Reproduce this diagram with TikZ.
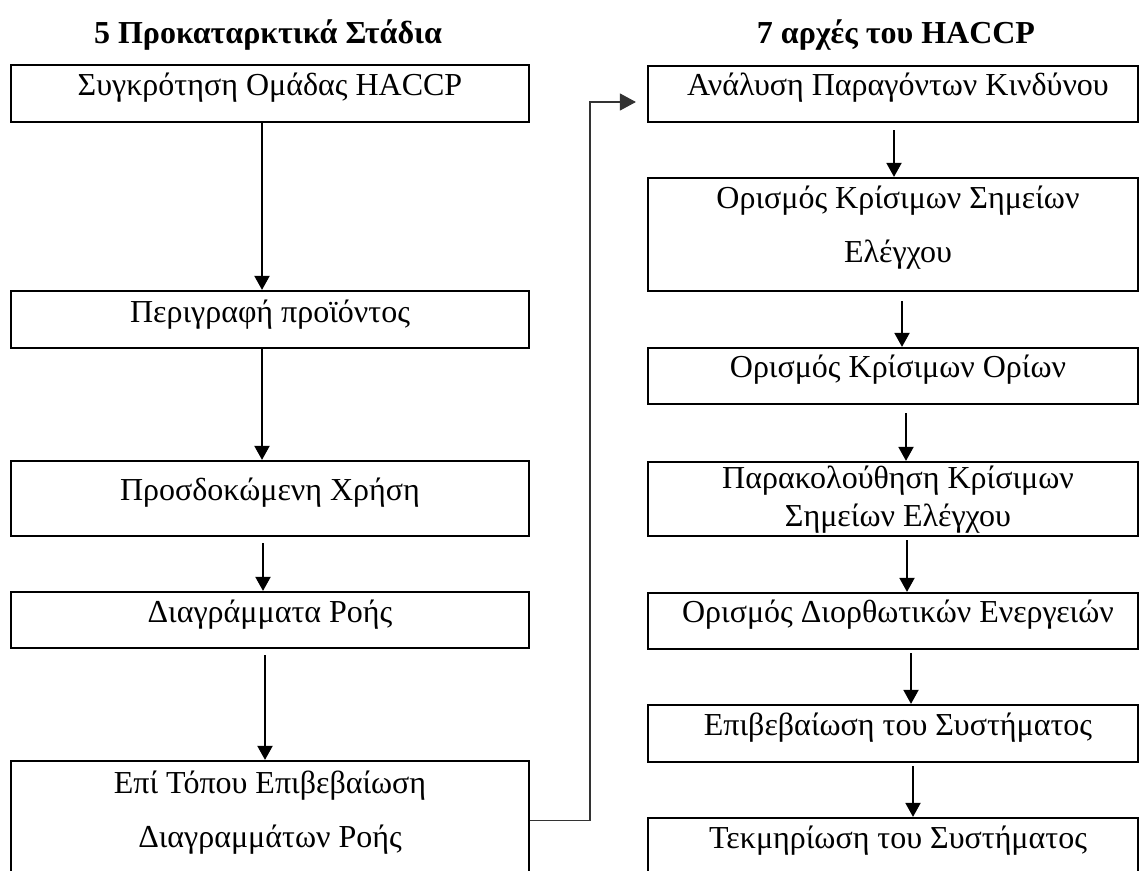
\documentclass[tikz,border=0pt]{standalone}
\usepackage{fontspec}
\setmainfont{Liberation Serif}
\usetikzlibrary{arrows.meta}
\begin{document}
\begin{tikzpicture}[x=1pt,y=-1pt,
  lbox/.style={draw=black, line width=2.2pt, inner sep=0pt, minimum width=518pt},
  rbox/.style={draw=black, line width=2.2pt, inner sep=0pt, minimum width=490pt},
  txt/.style={anchor=base, inner sep=0pt, font=\fontsize{32}{38}\selectfont},
  ttl/.style={anchor=base, inner sep=0pt, font=\fontsize{32}{38}\selectfont\bfseries},
  arr/.style={line width=1.9pt, -{Triangle[length=14pt,width=15pt]}},
  conn/.style={line width=1.1pt, draw=black!80, -{Triangle[length=16pt,width=17pt]}}]
\useasboundingbox (0,0) rectangle (1140,870);
% titles
\node[ttl] (t1) at (268,43) {5 Προκαταρκτικά Στάδια};
\node[ttl] (t2) at (896,43) {7 αρχές του HACCP};
% left column
\node[lbox, minimum height=57pt] (b1) at (270,93.5) {};
\node[txt] (b1t) at (270,95) {Συγκρότηση Ομάδας HACCP};
\node[lbox, minimum height=57pt] (b2) at (270,319.5) {};
\node[txt] (b2t) at (270,322) {Περιγραφή προϊόντος};
\node[lbox, minimum height=75pt] (b3) at (270,498.5) {};
\node[txt] (b3t) at (270,500) {Προσδοκώμενη Χρήση};
\node[lbox, minimum height=56pt] (b4) at (270,620) {};
\node[txt] (b4t) at (270,622) {Διαγράμματα Ροής};
\node[lbox, minimum height=119pt] (b5) at (270,820.5) {};
\node[txt] (b5t) at (270,793) {Επί Τόπου Επιβεβαίωση};
\node[txt] (b5u) at (270,847) {Διαγραμμάτων Ροής};
% right column
\node[rbox, minimum height=56pt] (r1) at (893,94) {};
\node[txt] (r1t) at (898,95) {Ανάλυση Παραγόντων Κινδύνου};
\node[rbox, minimum height=113pt] (r2) at (893,234.5) {};
\node[txt] (r2t) at (898,208) {Ορισμός Κρίσιμων Σημείων};
\node[txt] (r2u) at (898,262) {Ελέγχου};
\node[rbox, minimum height=56pt] (r3) at (893,376) {};
\node[txt] (r3t) at (898,377) {Ορισμός Κρίσιμων Ορίων};
\node[rbox, minimum height=74pt] (r4) at (893,499) {};
\node[txt] (r4t) at (898,488) {Παρακολούθηση Κρίσιμων};
\node[txt] (r4u) at (898,526) {Σημείων Ελέγχου};
\node[rbox, minimum height=56pt] (r5) at (893,621) {};
\node[txt] (r5t) at (898,622) {Ορισμός Διορθωτικών Ενεργειών};
\node[rbox, minimum height=57pt] (r6) at (893,733.5) {};
\node[txt] (r6t) at (898,735) {Επιβεβαίωση του Συστήματος};
\node[rbox, minimum height=62pt] (r7) at (893,849) {};
\node[txt] (r7t) at (898,848) {Τεκμηρίωση του Συστήματος};
% left arrows
\draw[arr] ([xshift=-8pt]b1.south) -- ([xshift=-8pt]b2.north);
\draw[arr] ([xshift=-8pt]b2.south) -- ([xshift=-8pt]b3.north);
\draw[arr] ([xshift=-7pt,yshift=-6pt]b3.south) -- ([xshift=-7pt]b4.north);
\draw[arr] ([xshift=-5pt,yshift=-6pt]b4.south) -- ([xshift=-5pt]b5.north);
% right arrows
\draw[arr] ([xshift=1pt,yshift=-7pt]r1.south) -- ([xshift=1pt]r2.north);
\draw[arr] ([xshift=9pt,yshift=-9pt]r2.south) -- ([xshift=9pt]r3.north);
\draw[arr] ([xshift=13pt,yshift=-8pt]r3.south) -- ([xshift=13pt]r4.north);
\draw[arr] ([xshift=14pt,yshift=-3pt]r4.south) -- ([xshift=14pt]r5.north);
\draw[arr] ([xshift=18pt,yshift=-3pt]r5.south) -- ([xshift=18pt]r6.north);
\draw[arr] ([xshift=20pt,yshift=-3pt]r6.south) -- ([xshift=20pt]r7.north);
% connector
\coordinate (cp) at (590,102);
\draw[conn] (b5.east) -- (b5.east -| cp) -- (cp) -- ([xshift=-11pt]cp -| r1.west);
\end{tikzpicture}
\end{document}
